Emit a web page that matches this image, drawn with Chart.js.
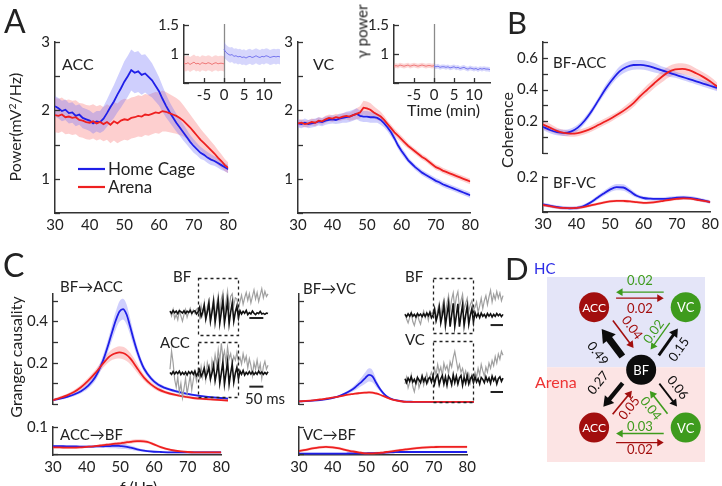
<!DOCTYPE html>
<html>
<head>
<meta charset="utf-8">
<script src="https://cdn.jsdelivr.net/npm/chart.js@4.4.1/dist/chart.umd.min.js"></script>
<style>
  body { margin: 0; background: #fff; }
  #fig { position: relative; width: 722px; height: 486px; overflow: hidden; font-family: Lato, "DejaVu Sans", sans-serif; color: #222; }
  #fig canvas { position: absolute; }
  .t { position: absolute; line-height: 1; white-space: nowrap; }
</style>
</head>
<body>
<div id="fig"></div>
<script>
// ---------- data ----------
// Panel A: power spectra (mean and sem), 1 Hz bins
const aFreq = [30,31,32,33,34,35,36,37,38,39,40,41,42,43,44,45,46,47,48,49,50,51,52,53,54,55,56,57,58,59,60,61,62,63,64,65,66,67,68,69,70,71,72,73,74,75,76,77,78,79,80];
const accHomeMean = [2.06,2.03,1.99,2.01,1.96,1.97,1.92,1.94,1.89,1.87, 1.85,1.81,1.84,1.83,1.88,1.96,2.05,2.13,2.23,2.32, 2.42,2.50,2.59,2.55,2.57,2.52,2.54,2.49,2.44,2.36, 2.28,2.17,2.07,1.98,1.90,1.82,1.75,1.68,1.61,1.54, 1.48,1.43,1.38,1.35,1.31,1.28,1.26,1.23,1.20,1.17, 1.14];
const accHomeErr = [0.15,0.15,0.15,0.15,0.15,0.15,0.15,0.15,0.15,0.15, 0.15,0.15,0.15,0.16,0.18,0.20,0.22,0.24,0.26,0.28, 0.30,0.30,0.30,0.30,0.30,0.29,0.28,0.27,0.25,0.23, 0.21,0.19,0.17,0.15,0.14,0.13,0.12,0.12,0.11,0.10, 0.10,0.09,0.09,0.08,0.08,0.08,0.07,0.07,0.07,0.06, 0.06];
const accArenaMean = [1.93,1.92,1.94,1.90,1.91,1.89,1.90,1.86,1.85,1.83, 1.82,1.84,1.81,1.83,1.80,1.83,1.79,1.84,1.81,1.85, 1.87,1.86,1.89,1.90,1.92,1.91,1.94,1.93,1.95,1.97, 1.96,1.99,1.98,1.96,1.94,1.92,1.89,1.85,1.80,1.75, 1.69,1.63,1.57,1.52,1.47,1.42,1.37,1.31,1.26,1.20, 1.16];
const accArenaErr = [0.25,0.25,0.25,0.25,0.25,0.25,0.25,0.25,0.25,0.25, 0.25,0.25,0.25,0.25,0.25,0.26,0.27,0.28,0.29,0.30, 0.30,0.30,0.30,0.30,0.30,0.30,0.30,0.30,0.30,0.30, 0.30,0.30,0.29,0.28,0.27,0.26,0.25,0.23,0.21,0.19, 0.18,0.17,0.16,0.15,0.14,0.13,0.12,0.11,0.10,0.09, 0.08];
const vcHomeMean = [1.81,1.80,1.82,1.80,1.81,1.82,1.84,1.83,1.85,1.86, 1.87,1.86,1.88,1.89,1.90,1.91,1.93,1.95,1.92,1.91, 1.91,1.90,1.90,1.89,1.86,1.81,1.75,1.68,1.59,1.49, 1.41,1.34,1.27,1.22,1.17,1.13,1.09,1.06,1.03,1.00, 0.97,0.95,0.92,0.90,0.88,0.86,0.84,0.82,0.80,0.78, 0.76];
const vcHomeErr = [0.06,0.06,0.06,0.06,0.06,0.06,0.06,0.06,0.06,0.06, 0.06,0.06,0.07,0.07,0.08,0.08,0.08,0.08,0.08,0.08, 0.08,0.08,0.08,0.07,0.07,0.06,0.06,0.06,0.05,0.05, 0.05,0.05,0.04,0.04,0.04,0.04,0.04,0.04,0.04,0.04, 0.04,0.04,0.04,0.04,0.04,0.04,0.04,0.04,0.04,0.04, 0.04];
const vcArenaMean = [1.81,1.82,1.80,1.81,1.83,1.82,1.85,1.84,1.87,1.89, 1.88,1.90,1.89,1.91,1.92,1.91,1.93,1.95,1.97,2.04, 2.03,2.01,1.97,1.94,1.91,1.86,1.80,1.74,1.68,1.63, 1.58,1.53,1.48,1.44,1.40,1.36,1.32,1.29,1.25,1.21, 1.17,1.15,1.12,1.10,1.08,1.06,1.04,1.02,1.00,0.98, 0.96];
const vcArenaErr = [0.05,0.05,0.05,0.05,0.05,0.05,0.05,0.05,0.05,0.05, 0.05,0.05,0.05,0.05,0.05,0.06,0.07,0.08,0.09,0.10, 0.10,0.10,0.09,0.08,0.07,0.06,0.05,0.05,0.05,0.05, 0.05,0.05,0.04,0.04,0.04,0.04,0.04,0.04,0.04,0.04, 0.04,0.04,0.04,0.04,0.04,0.04,0.04,0.04,0.04,0.04, 0.04];

// Panel A insets: gamma power over time (min)
const insetTimeBefore = [-10,-9.5,-9,-8.5,-8,-7.5,-7,-6.5,-6,-5.5,-5,-4.5,-4,-3.5,-3,-2.5,-2,-1.5,-1,-0.5,0];
const insetTimeAfter = [0,0.5,1,1.5,2,2.5,3,3.5,4,4.5,5,5.5,6,6.5,7,7.5,8,8.5,9,9.5,10,10.5,11,11.5,12,12.5,13,13.5,14];
const insetTimeTicks = [-5, 0, 5, 10];
const accInsetArena = [0.84,0.83,0.85,0.82,0.84,0.86,0.83,0.84,0.82,0.85,0.84,0.83,0.85,0.84,0.82,0.84,0.85,0.83,0.84,0.84,0.83];
const accInsetHome = [1.08,1.03,1.00,0.98,0.99,0.96,0.97,0.95,0.96,0.94,0.95,0.93,0.95,0.96,0.94,0.95,0.97,0.95,0.94,0.96,0.95,0.97,0.96,0.94,0.95,0.96,0.95,0.96,0.95];
const vcInsetArena = [0.79,0.80,0.79,0.81,0.80,0.79,0.80,0.81,0.79,0.80,0.81,0.80,0.79,0.80,0.81,0.80,0.79,0.80,0.80,0.79,0.80];
const vcInsetHome = [0.79,0.78,0.79,0.77,0.78,0.78,0.77,0.78,0.76,0.77,0.78,0.76,0.77,0.75,0.76,0.77,0.75,0.74,0.76,0.75,0.74,0.75,0.73,0.75,0.74,0.75,0.74,0.74,0.73];
const accInsetErr = 0.13, vcInsetErr = 0.04;

// Panel B: coherence, 2 Hz bins
const bFreq = [30,32,34,36,38,40,42,44,46,48,50,52,54,56,58,60,62,64,66,68,70,72,74,76,78,80];
const bAccHome = [0.165,0.145,0.132,0.127,0.135,0.16,0.205,0.265,0.335,0.405,0.465,0.515,0.542,0.555,0.556,0.55,0.537,0.522,0.508,0.494,0.48,0.466,0.452,0.438,0.424,0.41];
const bAccHomeErr = [0.02,0.02,0.02,0.02,0.02,0.02,0.02,0.02,0.02,0.025,0.025,0.03,0.03,0.03,0.03,0.03,0.03,0.025,0.025,0.02,0.02,0.02,0.02,0.02,0.02,0.02];
const bAccArena = [0.18,0.16,0.14,0.127,0.122,0.126,0.138,0.155,0.178,0.2,0.224,0.25,0.28,0.315,0.36,0.4,0.44,0.478,0.51,0.528,0.531,0.522,0.503,0.48,0.452,0.42];
const bAccArenaErr = [0.03,0.025,0.02,0.02,0.02,0.02,0.02,0.02,0.02,0.02,0.02,0.02,0.025,0.025,0.025,0.03,0.03,0.035,0.035,0.035,0.035,0.035,0.03,0.03,0.03,0.025];
const bVcHome = [0.043,0.036,0.029,0.024,0.021,0.023,0.033,0.052,0.078,0.104,0.128,0.142,0.14,0.118,0.093,0.08,0.076,0.075,0.075,0.078,0.082,0.083,0.081,0.075,0.066,0.057];
const bVcHomeErr = [0.01,0.01,0.01,0.01,0.01,0.01,0.01,0.01,0.012,0.014,0.016,0.018,0.018,0.016,0.012,0.01,0.01,0.01,0.01,0.01,0.01,0.01,0.01,0.01,0.01,0.01];
const bVcArena = [0.04,0.033,0.027,0.023,0.022,0.023,0.028,0.036,0.045,0.054,0.061,0.064,0.063,0.061,0.056,0.052,0.054,0.058,0.064,0.07,0.075,0.078,0.076,0.07,0.064,0.057];
const bVcArenaErr = 0.008;

// Panel C: Granger causality
const cFreq = [30,32,34,36,38,40,42,44,45,46,47,48,49,50,51,52,53,54,55,56,58,60,62,65,68,70,72,75,78,80];
const bfAccHome = [0.019,0.026,0.035,0.046,0.062,0.088,0.128,0.198,0.245,0.298,0.355,0.408,0.448,0.46,0.435,0.378,0.315,0.258,0.21,0.172,0.124,0.094,0.078,0.062,0.05,0.044,0.039,0.033,0.029,0.026];
const bfAccHomeErr = [0.005,0.006,0.007,0.008,0.01,0.014,0.018,0.024,0.028,0.032,0.038,0.044,0.05,0.05,0.048,0.04,0.032,0.026,0.02,0.016,0.012,0.01,0.008,0.007,0.006,0.006,0.005,0.005,0.005,0.005];
const bfAccArena = [0.019,0.03,0.042,0.058,0.081,0.112,0.148,0.19,0.21,0.228,0.24,0.247,0.25,0.247,0.238,0.222,0.2,0.175,0.15,0.128,0.095,0.072,0.058,0.044,0.034,0.029,0.026,0.022,0.019,0.017];
const bfAccArenaErr = [0.006,0.007,0.008,0.01,0.012,0.014,0.016,0.02,0.022,0.024,0.026,0.028,0.03,0.03,0.03,0.028,0.025,0.022,0.018,0.015,0.012,0.01,0.008,0.007,0.006,0.006,0.005,0.005,0.005,0.005];
const accBfHome = [0.03,0.03,0.029,0.029,0.028,0.028,0.028,0.029,0.029,0.03,0.03,0.031,0.031,0.03,0.029,0.027,0.024,0.021,0.018,0.015,0.011,0.009,0.008,0.007,0.007,0.007,0.007,0.007,0.007,0.007];
const accBfHomeErr = [0.004,0.004,0.004,0.004,0.004,0.004,0.004,0.004,0.006,0.007,0.008,0.009,0.01,0.01,0.01,0.009,0.008,0.007,0.006,0.005,0.004,0.004,0.004,0.004,0.004,0.004,0.004,0.004,0.004,0.004];
const accBfArena = [0.025,0.025,0.024,0.024,0.025,0.027,0.029,0.032,0.033,0.035,0.036,0.038,0.039,0.04,0.042,0.044,0.045,0.047,0.048,0.048,0.045,0.036,0.026,0.016,0.01,0.008,0.007,0.007,0.007,0.007];
const accBfArenaErr = [0.004,0.004,0.004,0.004,0.004,0.004,0.004,0.004,0.005,0.005,0.005,0.006,0.006,0.006,0.007,0.007,0.007,0.007,0.007,0.007,0.006,0.005,0.005,0.004,0.004,0.004,0.004,0.004,0.004,0.004];
const bfVcHome = [0.0125,0.014,0.016,0.019,0.024,0.031,0.042,0.058,0.068,0.08,0.095,0.11,0.127,0.141,0.134,0.104,0.076,0.054,0.038,0.028,0.017,0.012,0.011,0.01,0.01,0.01,0.01,0.01,0.01,0.01];
const bfVcHomeErr = [0.002,0.002,0.002,0.003,0.003,0.004,0.005,0.008,0.01,0.013,0.017,0.022,0.028,0.032,0.03,0.02,0.012,0.008,0.005,0.004,0.003,0.002,0.002,0.002,0.002,0.002,0.002,0.002,0.002,0.002];
const bfVcArena = [0.0125,0.015,0.018,0.022,0.027,0.032,0.038,0.045,0.048,0.05,0.052,0.054,0.055,0.056,0.055,0.051,0.046,0.039,0.032,0.025,0.016,0.011,0.01,0.01,0.01,0.01,0.01,0.01,0.01,0.01];
const bfVcArenaErr = [0.003,0.003,0.003,0.003,0.003,0.003,0.003,0.003,0.004,0.004,0.005,0.005,0.006,0.006,0.006,0.006,0.005,0.005,0.004,0.004,0.003,0.003,0.003,0.003,0.003,0.003,0.003,0.003,0.003,0.003];
const vcBfHome = [0.002,0.002,0.002,0.002,0.002,0.002,0.002,0.002,0.003,0.003,0.003,0.003,0.003,0.003,0.004,0.004,0.004,0.005,0.005,0.006,0.007,0.008,0.008,0.008,0.008,0.008,0.008,0.008,0.008,0.008];
const vcBfArena = [0.012,0.016,0.021,0.025,0.027,0.025,0.021,0.015,0.012,0.01,0.008,0.006,0.004,0.003,0.003,0.003,0.004,0.005,0.006,0.008,0.011,0.015,0.018,0.022,0.025,0.026,0.027,0.027,0.027,0.027];
const vcBfHomeErr = 0.003, vcBfArenaErr = 0.005;

// Panel C insets: example LFP traces (gray raw, black gamma-filtered), 64 samples
const bfLeftBlack = [0.05,-0.10,0.12,-0.05,0.08,-0.12,0.10,0.02,-0.08,0.10,-0.10,0.06,-0.04,0.12,-0.10,0.05,0.10,-0.15,
  0,0.35,-0.35,0,0.52,-0.52,0,0.7,-0.7,0,0.8,-0.8,0.05,0.87,-0.87,0,0.9,-0.85,-0.05,0.85,-0.9,0,0.7,-0.7,0,0.45,-0.45,
  0.10,-0.15,0.05,-0.10,0.12,-0.20,-0.05,-0.15,0.08,-0.10,-0.20,-0.05,-0.12,0.05,-0.15,-0.10,-0.18,-0.08,-0.12];
const bfLeftGray = [0.10,-0.30,0.20,-0.50,-0.20,-0.60,0.10,-0.30,-0.70,-0.20,0.20,-0.40,0.00,0.30,-0.20,0.15,-0.10,0.20,
  0.30,-0.40,0.50,-0.20,0.70,-0.60,0.40,0.90,-0.70,0.20,1.10,-0.50,0.60,1.30,-0.40,1.00,1.50,-0.20,0.80,1.60,0.20,1.20,1.40,0.50,1.10,1.00,0.30,
  0.80,1.30,0.60,1.10,1.50,0.90,1.40,0.70,1.20,1.70,1.00,1.50,0.80,1.30,1.80,1.10,1.60,1.20,1.40];
const accLeftBlack = [0.05,-0.10,0.12,-0.08,0.10,-0.05,0.15,-0.12,0.05,-0.10,0.08,-0.15,0.10,-0.05,0.12,-0.10,0.15,-0.20,
  0,0.26,-0.26,0,0.35,-0.35,0,0.45,-0.45,0,0.6,-0.6,0.05,0.78,-0.78,0,0.87,-0.87,0,0.9,-0.85,0,0.7,-0.7,0,0.45,-0.45,
  0.15,-0.10,0.20,-0.15,0.05,-0.10,0.12,-0.08,0.10,-0.12,0.05,-0.10,0.15,-0.05,0.08,-0.10,0.05,-0.08,0.10];
const accLeftGray = [0.30,1.70,0.80,-0.50,-1.10,-0.30,-1.50,-0.80,-1.90,-1.20,-0.40,-1.60,-0.90,-0.20,-1.30,-0.50,0.10,-0.60,
  0.20,-0.40,0.50,-0.30,0.60,-0.50,0.80,0.30,-0.60,1.00,0.40,1.40,0.60,1.80,0.90,2.30,1.20,1.70,0.80,2.00,1.10,1.50,0.70,1.30,1.00,1.60,0.90,
  1.20,0.70,1.50,0.90,1.30,0.40,1.10,0.60,-0.20,0.80,0.30,1.00,0.20,0.70,-0.40,0.50,0.90,0.30,0.60];
const bfRightBlack = [0.05,-0.12,0.10,-0.08,0.15,-0.10,0.05,-0.15,0.12,-0.05,0.08,-0.12,0.10,-0.10,0.15,-0.05,0.20,-0.20,
  0,0.45,-0.45,0,0.6,-0.6,0,0.8,-0.8,0.05,0.87,-0.9,0,0.9,-0.87,-0.05,0.87,-0.9,0,0.8,-0.8,0,0.7,-0.7,0,0.5,-0.55,
  0.20,-0.15,0.10,-0.20,0.15,-0.10,0.05,-0.18,0.12,-0.08,0.10,-0.15,0.05,-0.10,0.12,-0.05,0.08,-0.12,0.05];
const bfRightGray = [0.1,-0.3,-0.6,-0.2,0.2,-0.5,-0.8,-0.3,0.1,-0.4,-0.7,-0.1,0.3,-0.2,0.2,-0.4,0.3,0.1,
  0.2,0.6,-0.3,0.4,0.9,-0.2,0.7,1.2,0.1,0.9,1.5,0.3,1.2,1.7,0.5,1.4,1.8,0.6,1.1,1.6,0.4,0.9,1.3,0.3,0.8,1.1,0.4,
  0.6,1.0,0.2,0.7,1.3,0.5,1.1,1.5,0.8,1.4,1.9,1.0,1.6,1.2,1.8,1.3,1.7,1.1,1.5];
const vcRightBlack = [0.1,-0.2,0.15,-0.1,0.25,-0.15,0.05,-0.25,0.2,0.0,-0.2,0.3,-0.1,0.15,-0.25,0.1,0.2,-0.15,
  0.3,-0.3,0.2,0.4,-0.35,0.1,0.35,-0.3,0.25,-0.4,0.3,0.1,-0.35,0.4,-0.2,0.3,-0.3,0.15,0.35,-0.4,0.2,-0.25,0.35,-0.3,0.1,0.3,-0.2,
  0.25,-0.15,0.1,-0.3,0.2,0.05,-0.2,0.25,-0.1,0.15,-0.25,0.3,-0.05,0.2,-0.3,0.1,0.25,-0.1,0.15];
const vcRightGray = [-0.3,0.2,-0.6,-0.2,0.4,-0.5,-0.9,-0.3,0.2,-0.6,-0.2,0.3,-0.4,0.1,0.5,-0.1,0.3,0.6,
  0.2,0.9,0.4,1.2,0.6,1.0,0.3,1.3,0.8,1.1,0.5,1.4,1.0,1.7,2.2,1.5,0.8,1.2,0.6,0.9,0.3,0.7,0.1,0.5,-0.2,0.4,0.1,
  0.6,0.2,0.9,0.4,1.2,0.7,0.3,1.0,0.6,1.3,0.9,1.5,1.1,1.8,1.3,2.0,1.6,2.2,1.9];
const stimWindow = [18, 44];   // samples inside the dashed box

// Panel D: Granger causality network
const nodeName = ['ACC', 'VC', 'BF', 'ACC', 'VC'];
const nodeX = [29.8, 87.8, 59.6, 29.8, 87.8];
const nodeY = [83.7, 83.7, 49.8, 18.6, 18.6];
const hcArenaSplit = 51.2;
const gcFrom  = [1, 0, 2, 0, 1, 2,   2, 3, 2, 4, 4, 3];
const gcTo    = [0, 1, 0, 2, 2, 1,   3, 2, 4, 2, 3, 4];
const gcValue = [0.02, 0.02, 0.49, 0.04, 0.02, 0.15,   0.27, 0.05, 0.06, 0.04, 0.03, 0.02];

// ---------- drawing ----------
const FONT = 'Lato, "DejaVu Sans", sans-serif';
Chart.defaults.font.family = FONT;
Chart.defaults.font.size = 15;
Chart.defaults.color = '#222';

const BLUE = '#1f1fe8', RED = '#ee2020';
const BLUE_BAND = 'rgba(110,110,250,0.33)', RED_BAND = 'rgba(250,110,110,0.33)';
const AXIS = '#333';
const NODE_COLOR = { ACC: '#a20e0e', VC: '#3e9b1d', BF: '#0c0c0c' };

const fig = document.getElementById('fig');

function canvasAt(left, top, w, h) {
  const c = document.createElement('canvas');
  c.width = w; c.height = h;
  c.style.left = left + 'px'; c.style.top = top + 'px';
  c.style.width = w + 'px'; c.style.height = h + 'px';
  fig.appendChild(c);
  return c.getContext('2d');
}

function text(str, x, capTop, size, color) {
  const d = document.createElement('div');
  d.className = 't';
  d.textContent = str;
  d.style.left = x + 'px';
  d.style.top = (capTop - 0.09 * size) + 'px';
  d.style.fontSize = size + 'px';
  if (color) d.style.color = color;
  fig.appendChild(d);
  return d;
}

function vtext(html, cx, cy, size) {
  const d = text('', 0, 0, size);
  d.innerHTML = html;
  const w = d.offsetWidth, h = d.offsetHeight;
  d.style.left = (cx - w / 2) + 'px';
  d.style.top = (cy - h / 2) + 'px';
  d.style.transform = 'rotate(-90deg)';
}

const errAt = (e, i) => (typeof e === 'number' ? e : e[i]);
const pickLabel = labels => v => { const hit = labels.find(l => Math.abs(l - v) < 1e-6); return hit === undefined ? '' : String(hit); };

// mean lines first (drawn on top), then the sem bands
function seriesSets(sets, smooth, lineW) {
  const lines = [], bands = [];
  const curve = smooth ? { cubicInterpolationMode: 'monotone' } : { tension: 0 };
  sets.forEach(s => {
    lines.push(Object.assign({ label: s.label, legendRank: s.rank, data: s.xs.map((x, i) => ({ x, y: s.mean[i] })),
      borderColor: s.color, borderWidth: lineW || 1.8, pointRadius: 0, fill: false }, curve));
    bands.push(Object.assign({ data: s.xs.map((x, i) => ({ x, y: s.mean[i] + errAt(s.err, i) })),
      borderWidth: 0, pointRadius: 0, fill: false }, curve));
    bands.push(Object.assign({ data: s.xs.map((x, i) => ({ x, y: s.mean[i] - errAt(s.err, i) })),
      borderWidth: 0, pointRadius: 0, fill: '-1', backgroundColor: s.band }, curve));
  });
  return lines.reverse().concat(bands);
}

function yAxis(min, max, step, labels, width) {
  return {
    type: 'linear', min, max,
    grid: { display: false, drawTicks: false },
    border: { color: AXIS, width: 1.5 },
    ticks: { stepSize: step, includeBounds: false, autoSkip: false, padding: 5, callback: pickLabel(labels) },
    afterFit: s => { s.width = width; }
  };
}

function xAxis(min, max, step, show, height, labels) {
  const ticks = { stepSize: step, includeBounds: false, autoSkip: false, maxRotation: 0, padding: 3 };
  if (labels) ticks.callback = pickLabel(labels);
  return {
    type: 'linear', min, max, display: show,
    grid: { display: false, drawTicks: false },
    border: { color: AXIS, width: 1.5 },
    ticks,
    afterFit: s => { s.height = height; }
  };
}

// tick marks pointing into the plot
const inTicks = {
  id: 'inTicks',
  afterDatasetsDraw(chart, args, o) {
    const ctx = chart.ctx, ys = chart.scales.y, xs = chart.scales.x;
    ctx.save();
    ctx.strokeStyle = AXIS; ctx.lineWidth = 1.3;
    ys.ticks.forEach(t => {
      const p = Math.round(ys.getPixelForValue(t.value)) + 0.5;
      ctx.beginPath(); ctx.moveTo(ys.right, p); ctx.lineTo(ys.right + 5, p); ctx.stroke();
    });
    if (o.x) {
      xs.ticks.forEach(t => {
        if (t.label === '') return;
        const p = Math.round(xs.getPixelForValue(t.value)) + 0.5;
        ctx.beginPath(); ctx.moveTo(p, xs.top); ctx.lineTo(p, xs.top - 5); ctx.stroke();
      });
    }
    ctx.restore();
  }
};

const innerLegend = {
  id: 'innerLegend',
  afterDatasetsDraw(chart, args, o) {
    const ctx = chart.ctx, a = chart.chartArea;
    const items = chart.data.datasets.filter(d => d.legendRank).sort((p, q) => p.legendRank - q.legendRank);
    ctx.save();
    ctx.font = o.size + 'px ' + FONT;
    ctx.textBaseline = 'middle';
    items.forEach((d, i) => {
      const y = a.top + o.y + i * o.gap;
      ctx.strokeStyle = d.borderColor; ctx.lineWidth = 2.2;
      ctx.beginPath(); ctx.moveTo(a.left + o.x, y); ctx.lineTo(a.left + o.x + o.len, y); ctx.stroke();
      ctx.fillStyle = '#222';
      ctx.fillText(d.label, a.left + o.x + o.len + 3, y + 1);
    });
    ctx.restore();
  }
};

const zeroLine = {
  id: 'zeroLine',
  beforeDatasetsDraw(chart) {
    const ctx = chart.ctx, a = chart.chartArea;
    const x = Math.round(chart.scales.x.getPixelForValue(0)) + 0.5;
    ctx.save();
    ctx.strokeStyle = '#8a8a8a'; ctx.lineWidth = 1.3;
    ctx.beginPath(); ctx.moveTo(x, a.top - 1); ctx.lineTo(x, a.bottom); ctx.stroke();
    ctx.restore();
  }
};

function lineChart(ctx, datasets, o) {
  return new Chart(ctx, {
    type: 'line',
    data: { datasets },
    options: {
      responsive: false, animation: false, events: [],
      layout: { padding: o.pad },
      plugins: {
        legend: { display: false }, tooltip: { enabled: false },
        inTicks: { x: !!o.xTicks },
        innerLegend: o.legend || false
      },
      scales: { x: o.x, y: o.y }
    },
    plugins: [inTicks, innerLegend].concat(o.extra || [])
  });
}

// ---- Panel A ----
lineChart(canvasAt(0, 22, 240, 213), seriesSets([
  { xs: aFreq, mean: accHomeMean, err: accHomeErr, color: BLUE, band: BLUE_BAND, label: 'Home Cage', rank: 1 },
  { xs: aFreq, mean: accArenaMean, err: accArenaErr, color: RED, band: RED_BAND, label: 'Arena', rank: 2 }
]), {
  pad: { top: 20, left: 0, right: 11, bottom: 0 },
  x: xAxis(30, 80, 10, true, 22), y: yAxis(0.5, 3, 0.5, [1, 2, 3], 55),
  legend: { x: 23, y: 127, gap: 18, len: 27, size: 17 }
});
lineChart(canvasAt(258, 22, 224, 213), seriesSets([
  { xs: aFreq, mean: vcHomeMean, err: vcHomeErr, color: BLUE, band: BLUE_BAND },
  { xs: aFreq, mean: vcArenaMean, err: vcArenaErr, color: RED, band: RED_BAND }
]), {
  pad: { top: 20, left: 0, right: 10, bottom: 0 },
  x: xAxis(30, 80, 10, true, 22), y: yAxis(0.5, 3, 0.5, [1, 2, 3], 40)
});

// insets
[[150, accInsetHome, accInsetArena, accInsetErr], [360, vcInsetHome, vcInsetArena, vcInsetErr]].forEach(([left, home, arena, err]) => {
  lineChart(canvasAt(left, 11, 135, 92), seriesSets([
    { xs: insetTimeAfter, mean: home, err: err, color: '#7777ee', band: 'rgba(120,120,245,0.3)' },
    { xs: insetTimeBefore, mean: arena, err: err, color: '#ee7777', band: 'rgba(245,120,120,0.3)' }
  ], false, 1), {
    pad: { top: 10, left: 0, right: 5, bottom: 0 },
    x: xAxis(-10, 14, 5, true, 20, insetTimeTicks), y: yAxis(0.5, 1.5, 0.5, [1, 1.5], 34),
    xTicks: true, extra: [zeroLine]
  });
});

// ---- Panel B ----
lineChart(canvasAt(510, 28, 212, 139), seriesSets([
  { xs: bFreq, mean: bAccHome, err: bAccHomeErr, color: BLUE, band: BLUE_BAND },
  { xs: bFreq, mean: bAccArena, err: bAccArenaErr, color: RED, band: RED_BAND }
], true), {
  pad: { top: 10, left: 0, right: 5, bottom: 0 },
  x: xAxis(30, 80, 10, false, 0), y: yAxis(0, 0.7, 0.1, [0.2, 0.4, 0.6], 33)
});
lineChart(canvasAt(510, 163, 212, 71), seriesSets([
  { xs: bFreq, mean: bVcHome, err: bVcHomeErr, color: BLUE, band: BLUE_BAND },
  { xs: bFreq, mean: bVcArena, err: bVcArenaErr, color: RED, band: RED_BAND }
], true), {
  pad: { top: 10, left: 0, right: 5, bottom: 0 },
  x: xAxis(30, 80, 10, true, 22), y: yAxis(0, 0.2, 0.2, [0.2], 33)
});

// ---- Panel C ----
[[10, 43, bfAccHome, bfAccHomeErr, bfAccArena, bfAccArenaErr, accBfHome, accBfHomeErr, accBfArena, accBfArenaErr, true],
 [280, 19, bfVcHome, bfVcHomeErr, bfVcArena, bfVcArenaErr, vcBfHome, vcBfHomeErr, vcBfArena, vcBfArenaErr, false]
].forEach(([left, yw, h1, e1, a1, ea1, h2, e2, a2, ea2, labelled]) => {
  const w = 228 - 53 + yw + 5;
  lineChart(canvasAt(left, 280, w, 138), seriesSets([
    { xs: cFreq, mean: h1, err: e1, color: BLUE, band: BLUE_BAND },
    { xs: cFreq, mean: a1, err: ea1, color: RED, band: RED_BAND }
  ], true), {
    pad: { top: 10, left: 0, right: 5, bottom: 0 },
    x: xAxis(30, 80, 10, false, 0), y: yAxis(0, 0.533, 0.1, labelled ? [0.2, 0.4] : [], yw)
  });
  lineChart(canvasAt(left, 413, w, 64), seriesSets([
    { xs: cFreq, mean: h2, err: e2, color: BLUE, band: BLUE_BAND },
    { xs: cFreq, mean: a2, err: ea2, color: RED, band: RED_BAND }
  ], true), {
    pad: { top: 10, left: 0, right: 5, bottom: 0 },
    x: xAxis(30, 80, 10, true, 22), y: yAxis(-0.003, 0.1, 0.1, labelled ? [0.1] : [], yw)
  });
});

// trace insets
const traceBox = {
  id: 'traceBox',
  afterDatasetsDraw(chart, args, o) {
    const ctx = chart.ctx, a = chart.chartArea, xs = chart.scales.x, ys = chart.scales.y;
    ctx.save();
    ctx.strokeStyle = '#222'; ctx.lineWidth = 1.3; ctx.setLineDash([3, 3]);
    const x0 = Math.round(xs.getPixelForValue(stimWindow[0])) + 0.5, x1 = Math.round(xs.getPixelForValue(stimWindow[1])) + 0.5;
    ctx.strokeRect(x0, Math.round(a.top) + 0.5, x1 - x0, Math.round(a.bottom - a.top));
    ctx.setLineDash([]); ctx.lineWidth = 2;
    const by = ys.getPixelForValue(o.barY);
    ctx.beginPath(); ctx.moveTo(xs.getPixelForValue(o.bar[0]), by); ctx.lineTo(xs.getPixelForValue(o.bar[1]), by); ctx.stroke();
    ctx.restore();
  }
};
function traceChart(left, top, w, h, pad, gray, black, yr, bar, barY) {
  const pts = arr => arr.map((y, i) => ({ x: i, y }));
  new Chart(canvasAt(left, top, w, h), {
    type: 'line',
    data: { datasets: [
      { data: pts(black), borderColor: '#111', borderWidth: 1.6, pointRadius: 0, tension: 0, clip: false },
      { data: pts(gray), borderColor: '#a0a0a0', borderWidth: 1.2, pointRadius: 0, tension: 0, clip: false }
    ] },
    options: {
      responsive: false, animation: false, events: [],
      layout: { padding: pad },
      plugins: { legend: { display: false }, tooltip: { enabled: false }, traceBox: { bar, barY } },
      scales: { x: { type: 'linear', display: false, min: 0, max: 63 }, y: { display: false, min: yr[0], max: yr[1] } }
    },
    plugins: [traceBox]
  });
}
traceChart(160, 262, 118, 90, { left: 10, right: 10, top: 16, bottom: 17 }, bfLeftGray, bfLeftBlack, [-1.77, 2.62], [51, 60], -0.46);
traceChart(160, 326, 118, 90, { left: 10, right: 10, top: 16, bottom: 19 }, accLeftGray, accLeftBlack, [-1.85, 2.4], [51, 60], -1.05);
traceChart(395, 262, 118, 90, { left: 10, right: 10, top: 16, bottom: 19 }, bfRightGray, bfRightBlack, [-1.38, 2.85], [55, 63], -0.77);
traceChart(395, 325, 118, 95, { left: 10, right: 10, top: 16, bottom: 18 }, vcRightGray, vcRightBlack, [-1.69, 3.0], [55, 63], -0.92);

// ---- Panel D ----
// perpendicular offsets (px) of each arrow and of its label, same order as gcFrom
const ARROW_LAYOUT = [[15, 26], [-9, 2], [-7, -25], [-7, -18], [4, 12], [6, 19],
                      [6, 25], [6, 15], [-6, -18], [-6, -16], [-6, 1], [15, 22]];
const regionBg = {
  id: 'regionBg',
  beforeDatasetsDraw(chart) {
    const ctx = chart.ctx, a = chart.chartArea, ys = chart.scales.y;
    const s = ys.getPixelForValue(hcArenaSplit);
    ctx.save();
    ctx.fillStyle = '#e4e5f8'; ctx.fillRect(a.left, a.top, a.right - a.left, s - a.top);
    ctx.fillStyle = '#fce4e4'; ctx.fillRect(a.left, s, a.right - a.left, a.bottom - s);
    ctx.restore();
  }
};
const gcArrows = {
  id: 'gcArrows',
  afterDatasetsDraw(chart) {
    const ctx = chart.ctx, xs = chart.scales.x, ys = chart.scales.y;
    const P = nodeX.map((x, i) => ({ x: xs.getPixelForValue(x), y: ys.getPixelForValue(nodeY[i]) }));
    const R = 15, GAP = 7;
    ctx.save();
    gcFrom.forEach((f, k) => {
      const a = P[f], b = P[gcTo[k]], v = gcValue[k], [off, lab] = ARROW_LAYOUT[k];
      const L = Math.hypot(b.x - a.x, b.y - a.y), ux = (b.x - a.x) / L, uy = (b.y - a.y) / L, nx = -uy, ny = ux;
      const sx = a.x + ux * (R + GAP) + nx * off, sy = a.y + uy * (R + GAP) + ny * off;
      const ex = b.x - ux * (R + GAP) + nx * off, ey = b.y - uy * (R + GAP) + ny * off;
      const col = NODE_COLOR[nodeName[f]];
      const w = 1.1 + v * 12, hl = 5 + w * 1.1, hw = 2.8 + w * 0.75;
      ctx.strokeStyle = col; ctx.fillStyle = col; ctx.lineWidth = w;
      ctx.beginPath(); ctx.moveTo(sx, sy); ctx.lineTo(ex - ux * hl * 0.8, ey - uy * hl * 0.8); ctx.stroke();
      ctx.beginPath();
      ctx.moveTo(ex, ey);
      ctx.lineTo(ex - ux * hl + nx * hw, ey - uy * hl + ny * hw);
      ctx.lineTo(ex - ux * hl - nx * hw, ey - uy * hl - ny * hw);
      ctx.closePath(); ctx.fill();
      const mx = (a.x + b.x) / 2 + nx * lab, my = (a.y + b.y) / 2 + ny * lab;
      let ang = Math.atan2(uy, ux);
      if (ang > Math.PI / 2 + 0.01) ang -= Math.PI;
      if (ang < -Math.PI / 2 - 0.01) ang += Math.PI;
      ctx.save();
      ctx.translate(mx, my); ctx.rotate(ang);
      ctx.font = '13px ' + FONT; ctx.textAlign = 'center'; ctx.textBaseline = 'middle';
      ctx.fillText(v.toFixed(2), 0, 0);
      ctx.restore();
    });
    ctx.fillStyle = '#fff'; ctx.textAlign = 'center'; ctx.textBaseline = 'middle';
    P.forEach((p, i) => {
      ctx.font = (nodeName[i] === 'ACC' ? 12 : 13) + 'px ' + FONT;
      ctx.fillText(nodeName[i], p.x, p.y + 1);
    });
    ctx.restore();
  }
};
new Chart(canvasAt(532, 262, 188, 215), {
  type: 'scatter',
  data: { datasets: [{
    data: nodeX.map((x, i) => ({ x, y: nodeY[i] })),
    pointRadius: 15, pointHoverRadius: 15, borderWidth: 0,
    backgroundColor: nodeName.map(n => NODE_COLOR[n])
  }] },
  options: {
    responsive: false, animation: false, events: [],
    layout: { padding: 0 },
    plugins: { legend: { display: false }, tooltip: { enabled: false } },
    scales: { x: { display: false, min: 0, max: 100 }, y: { display: false, min: 0, max: 100 } }
  },
  plugins: [regionBg, gcArrows]
});

// ---- text ----
text('A', 4, 8, 32);
text('B', 507, 10, 31);
text('C', 3, 252, 32);
text('D', 505, 256, 31);
text('ACC', 62, 57, 16);
text('VC', 313, 57, 16);
vtext('Power(mV<sup style="font-size:0.65em;vertical-align:0.55em;line-height:0">2</sup>/Hz)', 15, 127, 16);
vtext('γ power', 362, 31, 15);
text('Time (min)', 407, 103, 16);
vtext('Coherence', 507, 130, 16);
text('BF-ACC', 553, 56, 15);
text('BF-VC', 553, 176, 15);
vtext('Granger causality', 15, 357, 16);
text('BF→ACC', 60, 280, 15);
text('ACC→BF', 60, 428, 15);
text('BF→VC', 303, 282, 15);
text('VC→BF', 303, 428, 15);
text('f (Hz)', 120, 480, 16);
text('BF', 173, 270, 15);
text('ACC', 160, 336, 15);
text('BF', 405, 270, 15);
text('VC', 405, 333, 15);
text('50 ms', 245, 392, 15);
text('HC', 534, 262, 15, '#2b2be6');
text('Arena', 535, 375, 16, '#ee3333');
</script>
</body>
</html>
